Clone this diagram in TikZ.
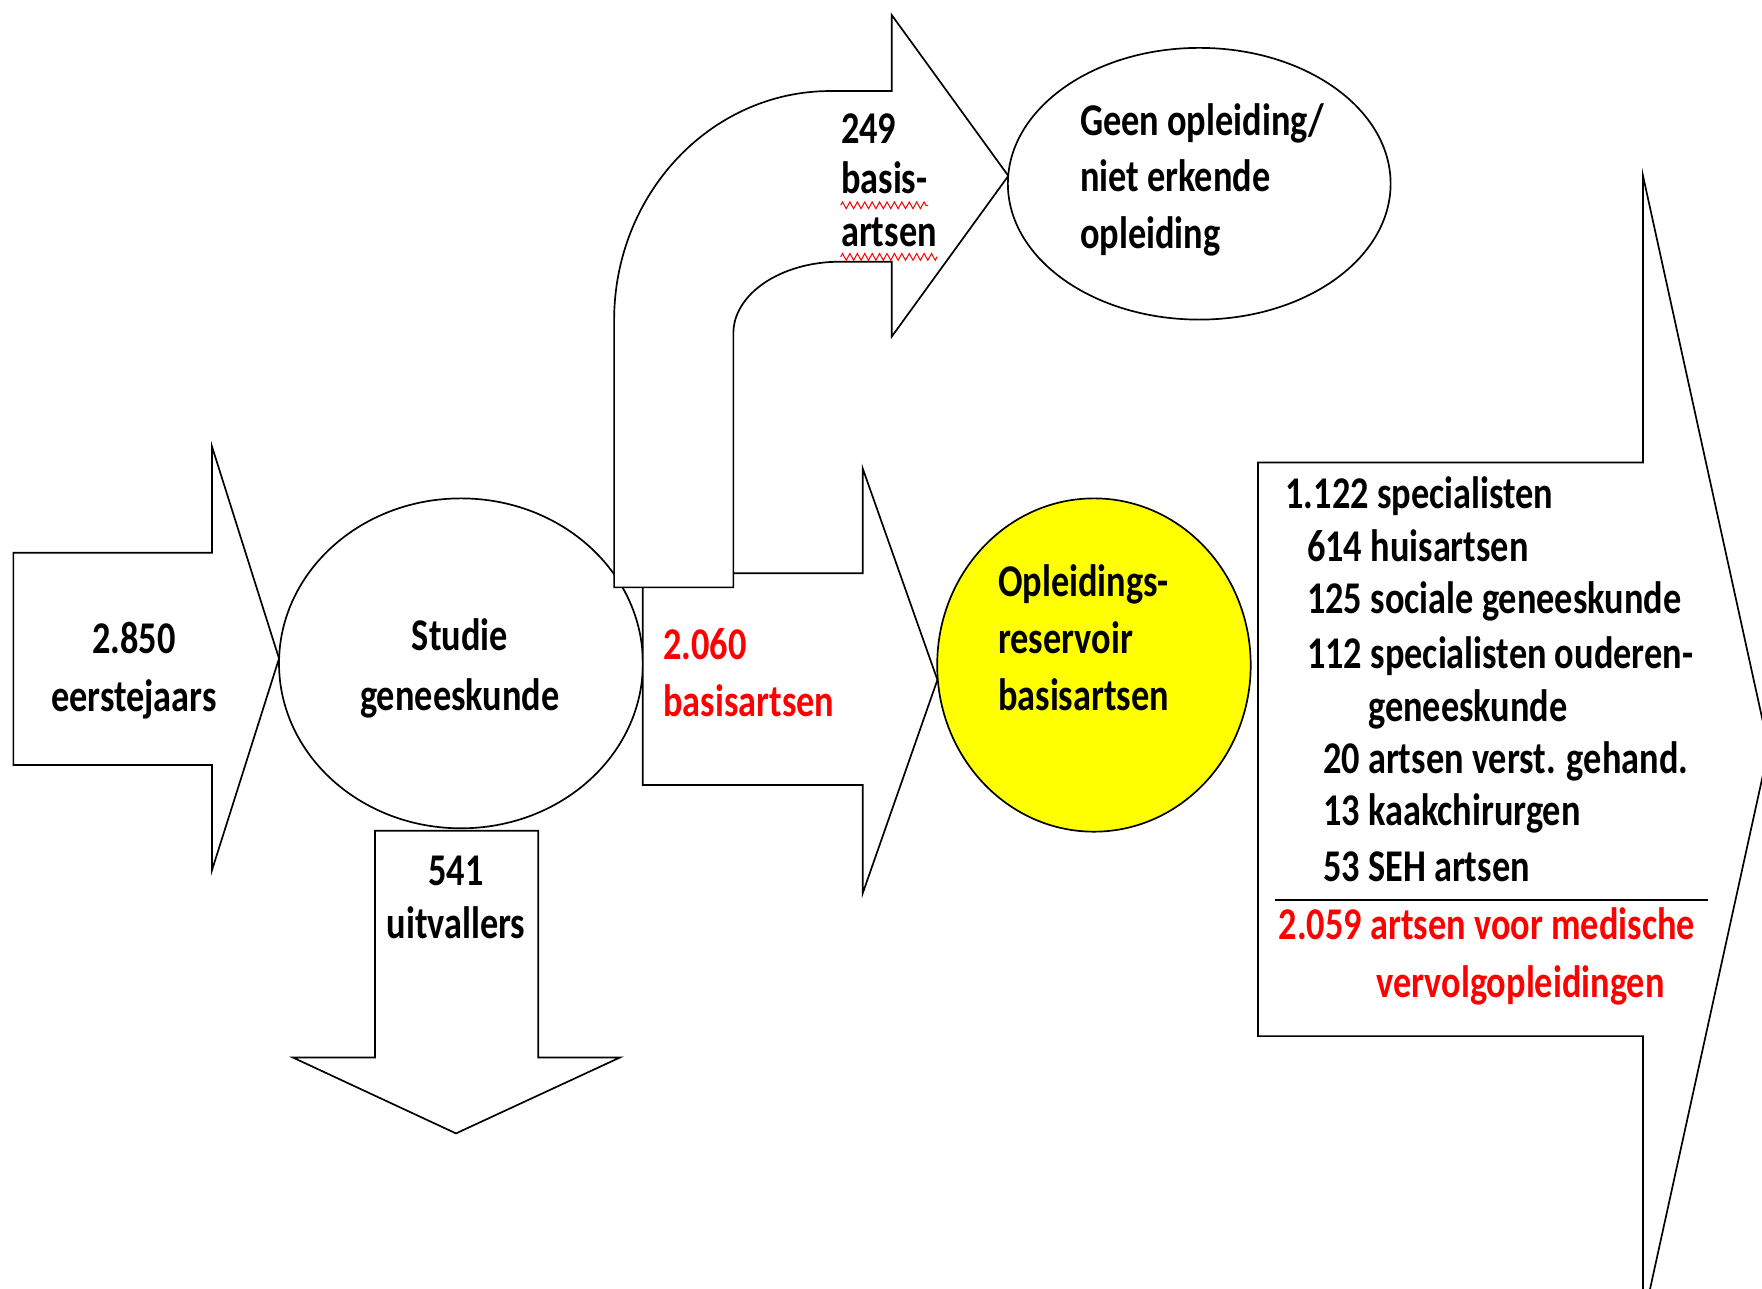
\documentclass[tikz,border=0pt]{standalone}
\usepackage{fontspec}
\newfontfamily\lblfont{Carlito}[FakeStretch=0.8]
\usetikzlibrary{decorations.pathmorphing,calc}
\definecolor{txtred}{RGB}{255,0,0}
\definecolor{resyellow}{RGB}{255,255,0}
\tikzset{
  blockshape/.style={draw=black, line width=0.75pt, fill=white, line join=miter},
  lbl/.style={font={\lblfont\bfseries\fontsize{20.2pt}{24pt}\selectfont}, inner sep=0pt, text=black},
  lw/.style={lbl, anchor=base west},
  lc/.style={lbl, anchor=base},
  redtxt/.style={text=txtred},
  squig/.style={draw=txtred, line width=0.45pt, decorate, decoration={zigzag, amplitude=1.5pt, segment length=3.3pt}}
}
\begin{document}
\begin{tikzpicture}[x=0.5pt,y=0.5pt]
\useasboundingbox (0,0) rectangle (1568,-1147);
\fill[white] (0,0) rectangle (1568,-1147);

% Studie ellipse
\draw[blockshape] (410.2,-590.3) ellipse [x radius=161.9, y radius=146.8];
% left arrow
\draw[blockshape] (11.9,-491.8) -- (188.7,-491.8) -- (188.7,-397.5) -- (248.3,-586) -- (188.7,-774.2) -- (188.7,-680.8) -- (11.9,-680.8) -- cycle;
% down arrow
\draw[blockshape] (333.7,-739.2) -- (479,-739.2) -- (479,-941) -- (551.8,-941) -- (405.8,-1008.6) -- (260.5,-941) -- (333.7,-941) -- cycle;
% 2.060 arrow
\draw[blockshape] (572,-510.2) -- (767.7,-510.2) -- (767.7,-416.8) -- (834.2,-605) -- (767.7,-795) -- (767.7,-698.6) -- (572,-698.6) -- cycle;
% yellow ellipse
\draw[blockshape, fill=resyellow] (973.5,-591.8) ellipse [x radius=139.5, y radius=148.3];
% bent arrow
\draw[blockshape] (546.5,-522.7) -- (546.5,-285) arc[start angle=180, end angle=90, x radius=192.5, y radius=204] -- (793.5,-81) -- (793.5,-13.3) -- (897.3,-156.5) -- (793.5,-299.6) -- (793.5,-232.9) -- (747.5,-232.9) arc[start angle=90, end angle=180, x radius=94.9, y radius=63.8] -- (652.6,-522.7) -- cycle;
% Geen ellipse
\draw[blockshape] (1067.2,-163.5) ellipse [x radius=170.3, y radius=120.9];
% big right arrow
\draw[blockshape] (1119.5,-411.5) -- (1462,-411.5) -- (1462,-156) -- (1574,-666) -- (1462,-1176) -- (1462,-922) -- (1119.5,-922) -- cycle;
\draw[line width=0.75pt] (1135,-801) -- (1520,-801);

% texts
\node[lc] (e1) at (119.2,-581.6) {2.850};
\node[lc] (e2) at (119.2,-633.5) {eerstejaars};
\node[lc] (s1) at (409.2,-578.6) {Studie};
\node[lc] (s2) at (409.2,-632) {geneeskunde};
\node[lc] (u1) at (405.8,-787.7) {541};
\node[lc] (u2) at (405.8,-835.2) {uitvallers};
\node[lw, redtxt] (r1) at (589.8,-587) {2.060};
\node[lw, redtxt] (r2) at (589.8,-638) {basisartsen};
\node[lw] (o1) at (887.8,-531) {Opleidings-};
\node[lw] (o2) at (887.8,-581.6) {reservoir};
\node[lw] (o3) at (887.8,-632) {basisartsen};
\node[lw] (g1) at (960.7,-121) {Geen opleiding/};
\node[lw] (g2) at (960.7,-170.4) {niet erkende};
\node[lw] (g3) at (960.7,-221.5) {opleiding};
\node[lw] (b1) at (748.1,-127.7) {249};
\node[lw] (b2) at (748.1,-172.2) {basis-};
\node[lw] (b3) at (748.1,-219.6) {artsen};
\draw[squig] ($(b2.base west)+(0,-10.5)$) -- ($(b2.base east)+(0,-10.5)$);
\draw[squig] ($(b3.base west)+(0,-9)$) -- ($(b3.base east)+(0,-9)$);

\node[lw] (l1) at (1143.6,-452.5) {1.122 specialisten};
\node[lw] (l2) at (1162.8,-499.7) {614 huisartsen};
\node[lw] (l3) at (1162.8,-546) {125 sociale geneeskunde};
\node[lw] (l4) at (1162.8,-594.6) {112 specialisten ouderen-};
\node[lw] (l5) at (1217.1,-641.8) {geneeskunde};
\node[lw] (l6) at (1177,-688.3) {20 artsen verst. gehand.};
\node[lw] (l7) at (1177,-734.9) {13 kaakchirurgen};
\node[lw] (l8) at (1177,-784) {53 SEH artsen};
\node[lw, redtxt] (l9) at (1137.6,-835.7) {2.059 artsen voor medische};
\node[lw, redtxt] (l10) at (1224.5,-887.4) {vervolgopleidingen};
\end{tikzpicture}
\end{document}
